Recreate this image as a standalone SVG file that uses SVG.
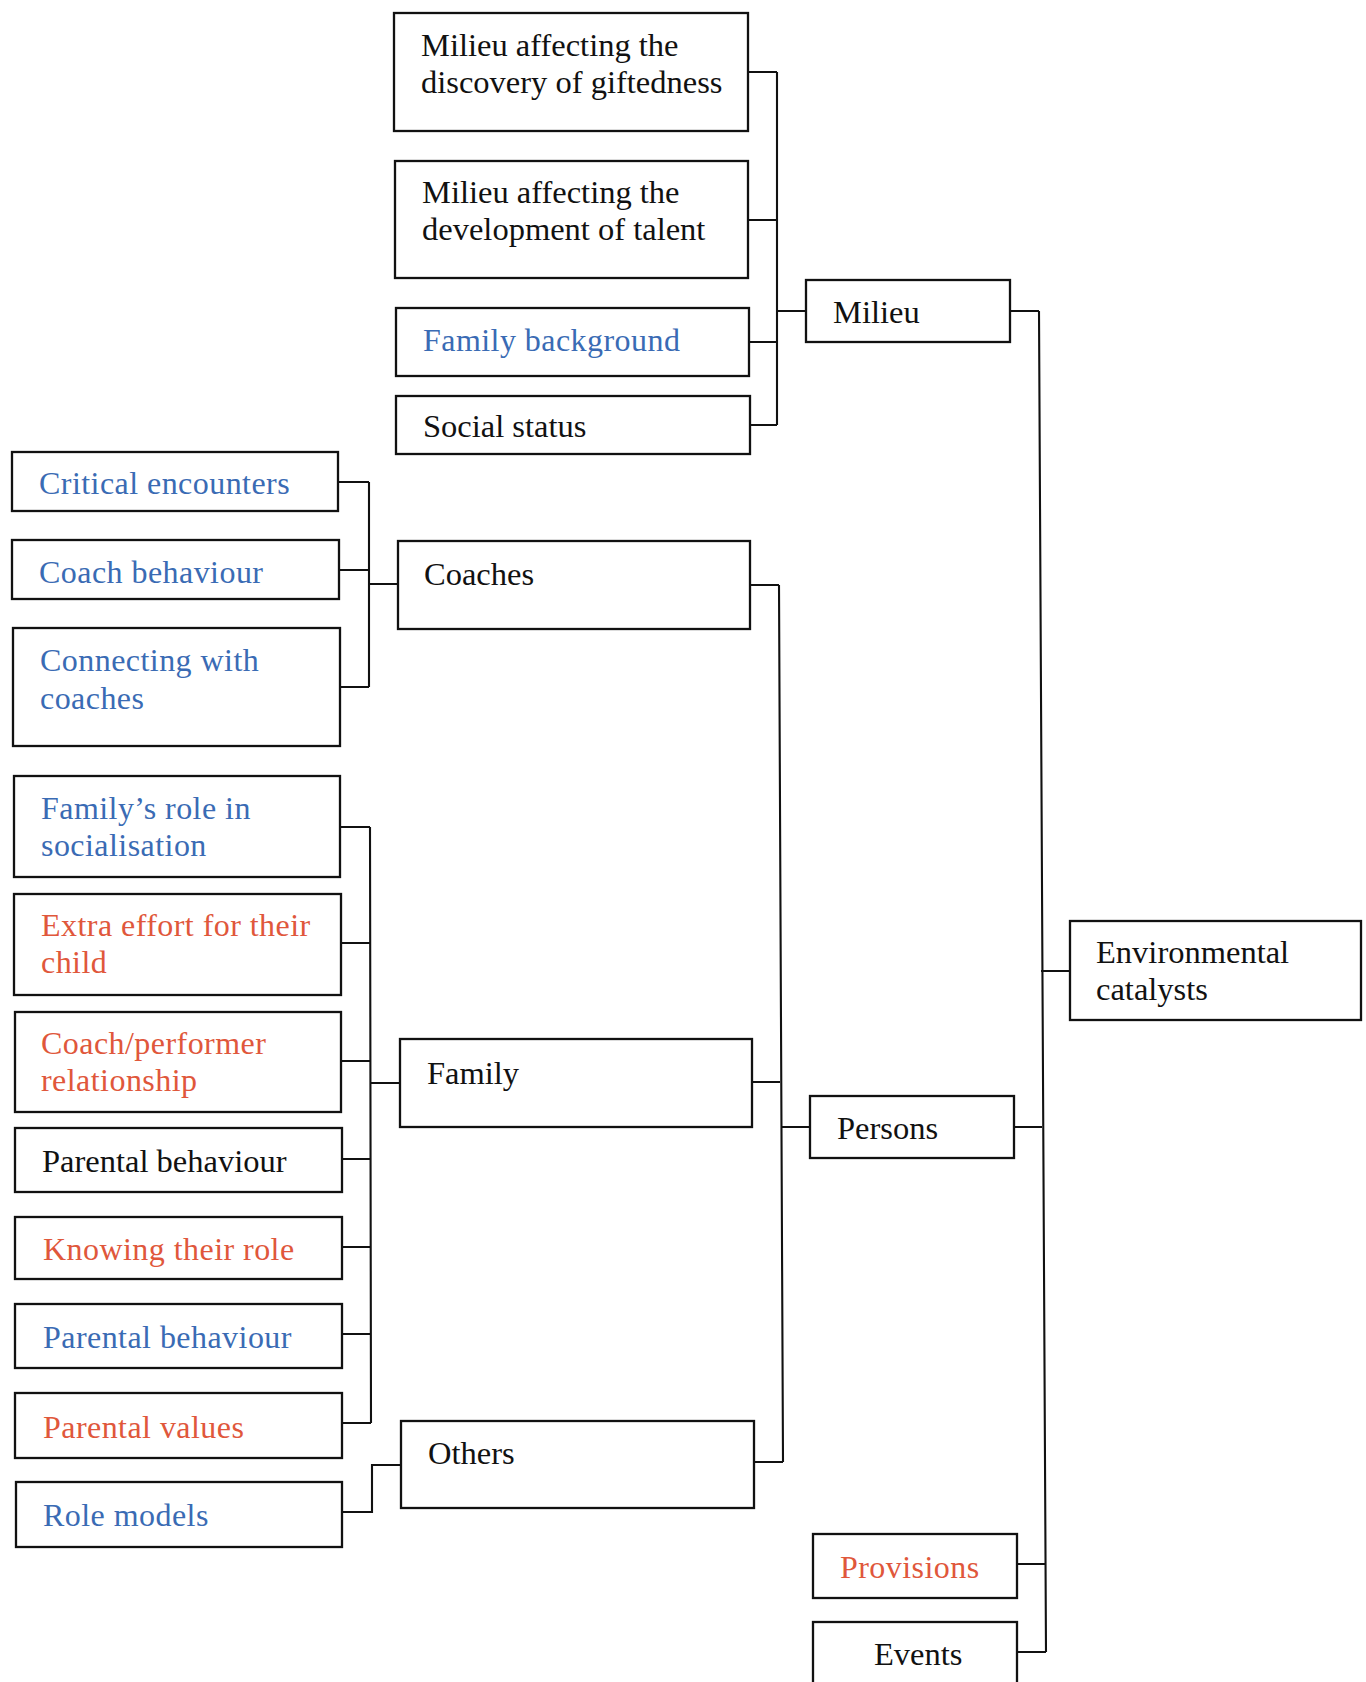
<svg xmlns="http://www.w3.org/2000/svg" width="1366" height="1682" viewBox="0 0 1366 1682">
  <style>
    .box { fill: #ffffff; stroke: #111111; stroke-width: 2.3; }
    .link { fill: none; stroke: #111111; stroke-width: 2.1; }
    text { font-family: "Liberation Serif", "Times New Roman", serif; font-size: 32.5px; fill: #111111; }
    .blue { fill: #3a6bb4; font-size: 32px; letter-spacing: 0.45px; }
    .red { fill: #e0573b; font-size: 32px; letter-spacing: 0.45px; }
  </style>
  <rect width="1366" height="1682" fill="#ffffff"/>

  <!-- tree connectors -->
  <g id="connectors">
    <!-- Milieu branch -->
    <path class="link" d="M748 72 H777 M748 220 H777 M749 342 H777 M750 425 H777 M777 72 V425 M777 311 H806"/>
    <!-- Coaches branch -->
    <path class="link" d="M338 482 H369 M339 570 H369 M340 687 H369 M369 482 V687 M369 584 H398"/>
    <!-- Family branch -->
    <path class="link" d="M340 827 H370 M341 943 H370 M341 1061 H370 M342 1159 H371 M342 1247 H371 M342 1334 H371 M342 1423 H371 M370 827 L371 1423 M370 1083 H400"/>
    <!-- Others branch -->
    <path class="link" d="M342 1512 H372 V1465 H401"/>
    <!-- Persons branch -->
    <path class="link" d="M750 585 H779 M752 1082 H780 M754 1462 H783 M779 585 L783 1462 M781 1127 H810"/>
    <!-- Environmental catalysts branch -->
    <path class="link" d="M1010 311 H1039 M1014 1127 H1042 M1017 1564 H1046 M1017 1652 H1046 M1039 311 L1046 1652 M1041 971 H1070"/>
  </g>

  <g id="n-discovery">
    <rect class="box" x="394" y="13" width="354" height="118"/>
    <text x="421" y="56">Milieu affecting the</text>
    <text x="421" y="93">discovery of giftedness</text>
  </g>
  <g id="n-development">
    <rect class="box" x="395" y="161" width="353" height="117"/>
    <text x="422" y="203">Milieu affecting the</text>
    <text x="422" y="240">development of talent</text>
  </g>
  <g id="n-family-background">
    <rect class="box" x="396" y="308" width="353" height="68"/>
    <text class="blue" x="423" y="351">Family background</text>
  </g>
  <g id="n-social-status">
    <rect class="box" x="396" y="396" width="354" height="58"/>
    <text x="423" y="437">Social status</text>
  </g>
  <g id="n-milieu">
    <rect class="box" x="806" y="280" width="204" height="62"/>
    <text x="833" y="323">Milieu</text>
  </g>

  <g id="n-critical-encounters">
    <rect class="box" x="12" y="452" width="326" height="59"/>
    <text class="blue" x="39" y="494">Critical encounters</text>
  </g>
  <g id="n-coach-behaviour">
    <rect class="box" x="12" y="540" width="327" height="59"/>
    <text class="blue" x="39" y="583">Coach behaviour</text>
  </g>
  <g id="n-connecting">
    <rect class="box" x="13" y="628" width="327" height="118"/>
    <text class="blue" x="40" y="671">Connecting with</text>
    <text class="blue" x="40" y="709">coaches</text>
  </g>
  <g id="n-coaches">
    <rect class="box" x="398" y="541" width="352" height="88"/>
    <text x="424" y="585">Coaches</text>
  </g>

  <g id="n-family-role">
    <rect class="box" x="14" y="776" width="326" height="101"/>
    <text class="blue" x="41" y="819">Family’s role in</text>
    <text class="blue" x="41" y="856">socialisation</text>
  </g>
  <g id="n-extra-effort">
    <rect class="box" x="14" y="894" width="327" height="101"/>
    <text class="red" x="41" y="936">Extra effort for their</text>
    <text class="red" x="41" y="973">child</text>
  </g>
  <g id="n-coach-performer">
    <rect class="box" x="15" y="1012" width="326" height="100"/>
    <text class="red" x="41" y="1054">Coach/performer</text>
    <text class="red" x="41" y="1091">relationship</text>
  </g>
  <g id="n-parental-behaviour-a">
    <rect class="box" x="15" y="1128" width="327" height="64"/>
    <text x="42" y="1172">Parental behaviour</text>
  </g>
  <g id="n-knowing-role">
    <rect class="box" x="15" y="1217" width="327" height="62"/>
    <text class="red" x="43" y="1260">Knowing their role</text>
  </g>
  <g id="n-parental-behaviour-b">
    <rect class="box" x="15" y="1304" width="327" height="64"/>
    <text class="blue" x="43" y="1348">Parental behaviour</text>
  </g>
  <g id="n-parental-values">
    <rect class="box" x="15" y="1393" width="327" height="65"/>
    <text class="red" x="43" y="1438">Parental values</text>
  </g>
  <g id="n-role-models">
    <rect class="box" x="16" y="1482" width="326" height="65"/>
    <text class="blue" x="43" y="1526">Role models</text>
  </g>

  <g id="n-family">
    <rect class="box" x="400" y="1039" width="352" height="88"/>
    <text x="427" y="1084">Family</text>
  </g>
  <g id="n-others">
    <rect class="box" x="401" y="1421" width="353" height="87"/>
    <text x="428" y="1464">Others</text>
  </g>
  <g id="n-persons">
    <rect class="box" x="810" y="1096" width="204" height="62"/>
    <text x="837" y="1139">Persons</text>
  </g>
  <g id="n-environmental-catalysts">
    <rect class="box" x="1070" y="921" width="291" height="99"/>
    <text x="1096" y="963">Environmental</text>
    <text x="1096" y="1000">catalysts</text>
  </g>
  <g id="n-provisions">
    <rect class="box" x="813" y="1534" width="204" height="64"/>
    <text class="red" x="840" y="1578">Provisions</text>
  </g>
  <g id="n-events">
    <rect class="box" x="813" y="1622" width="204" height="80"/>
    <text x="874" y="1665">Events</text>
  </g>
</svg>
